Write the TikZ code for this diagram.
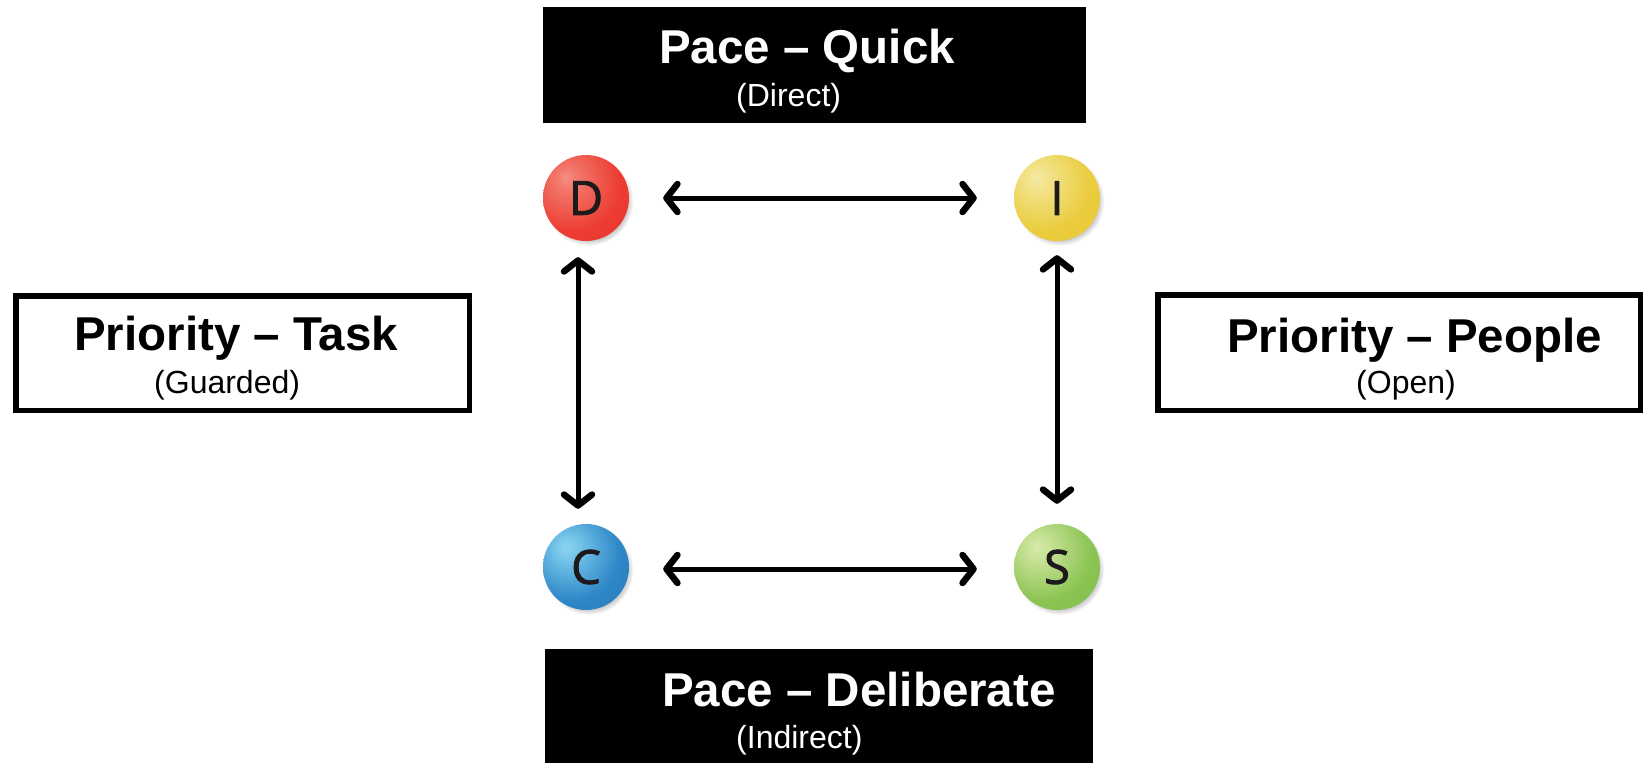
\documentclass[tikz,border=0pt]{standalone}
\usepackage{fontspec}
\setmainfont{Liberation Sans}
\newfontfamily\ballfont[FakeBold=2]{Open Sans}
\usetikzlibrary{arrows.meta,shadows}

\definecolor{ink}{HTML}{1E1A1B}

% glossy ball shadings, light source at the upper left
\pgfdeclareradialshading{ballD}{\pgfpoint{-12bp}{12bp}}{%
  rgb(0bp)=(0.96,0.56,0.51); rgb(6bp)=(0.95,0.47,0.42); rgb(28bp)=(0.93,0.24,0.20);
  rgb(50bp)=(0.90,0.19,0.15); rgb(64bp)=(0.80,0.14,0.11); rgb(100bp)=(0.80,0.14,0.11)}
\pgfdeclareradialshading{ballI}{\pgfpoint{-12bp}{12bp}}{%
  rgb(0bp)=(0.96,0.92,0.65); rgb(6bp)=(0.95,0.89,0.55); rgb(28bp)=(0.92,0.80,0.24);
  rgb(50bp)=(0.91,0.78,0.20); rgb(64bp)=(0.84,0.70,0.15); rgb(100bp)=(0.84,0.70,0.15)}
\pgfdeclareradialshading{ballC}{\pgfpoint{-12bp}{12bp}}{%
  rgb(0bp)=(0.56,0.83,0.94); rgb(6bp)=(0.47,0.78,0.92); rgb(28bp)=(0.18,0.53,0.78);
  rgb(50bp)=(0.15,0.47,0.74); rgb(64bp)=(0.10,0.38,0.64); rgb(100bp)=(0.10,0.38,0.64)}
\pgfdeclareradialshading{ballS}{\pgfpoint{-12bp}{12bp}}{%
  rgb(0bp)=(0.85,0.92,0.68); rgb(6bp)=(0.79,0.89,0.60); rgb(28bp)=(0.55,0.77,0.33);
  rgb(50bp)=(0.50,0.73,0.28); rgb(64bp)=(0.42,0.64,0.22); rgb(100bp)=(0.42,0.64,0.22)}

\tikzset{
  darkbox/.style={rectangle, fill=black, draw=none, inner sep=0pt},
  lightbox/.style={rectangle, fill=white, draw=black, line width=5.5pt, inner sep=0pt},
  headline/.style={inner sep=0pt, anchor=base west,
    font=\fontsize{47.5}{50}\selectfont\bfseries},
  subline/.style={inner sep=0pt, anchor=base west,
    font=\fontsize{32}{34}\selectfont},
  ball/.style={circle, minimum size=86pt, inner sep=0pt, text=ink,
    font=\ballfont\fontsize{47}{49}\selectfont,
    circular drop shadow={shadow xshift=2.5pt, shadow yshift=-3pt,
      shadow scale=1.04, opacity=0.45}},
  link/.style={line width=5pt, draw=black, <->,
    >={Straight Barb[length=11pt, width=28pt, line width=1.5pt 1, round]}},
}

\begin{document}
\begin{tikzpicture}[x=1pt, y=-1pt]
\useasboundingbox[fill=white] (0,0) rectangle (1647,763);

% frames
\node[darkbox, minimum width=543pt, minimum height=116pt] (quick) at (814.5,65) {};
\node[darkbox, minimum width=548pt, minimum height=120pt] (delib) at (819,709) {};
\node[lightbox, minimum width=453.5pt, minimum height=114.5pt] (task) at (242.5,353) {};
\node[lightbox, minimum width=482.5pt, minimum height=115.5pt] (people) at (1399,352.5) {};

% frame captions
\node[headline, text=white] (quickT) at (659,63) {Pace – Quick};
\node[subline, text=white] (quickS) at (736,106) {(Direct)};
\node[headline, text=white] (delibT) at (662,706) {Pace – Deliberate};
\node[subline, text=white] (delibS) at (736,748) {(Indirect)};
\node[headline] (taskT) at (74,350) {Priority – Task};
\node[subline] (taskS) at (154,393) {(Guarded)};
\node[headline] (peopleT) at (1227,352) {Priority – People};
\node[subline] (peopleS) at (1356,393) {(Open)};

% the four style balls
\node[ball, shading=ballD] (D) at (586,198) {D};
\node[ball, shading=ballI] (I) at (1057,198) {I};
\node[ball, shading=ballC] (C) at (586,567) {C};
\node[ball, shading=ballS] (S) at (1057,567) {S};

% connectors
\draw[link, shorten <=34pt, shorten >=37pt] (D.east) -- (I.west);
\draw[link, shorten <=34pt, shorten >=37pt] ([yshift=-2pt]C.east) -- ([yshift=-2pt]S.west);
\draw[link, shorten <=16pt, shorten >=15pt] ([xshift=-8pt]D.south) -- ([xshift=-8pt]C.north);
\draw[link, shorten <=14pt, shorten >=20pt] (I.south) -- (S.north);
\end{tikzpicture}
\end{document}
